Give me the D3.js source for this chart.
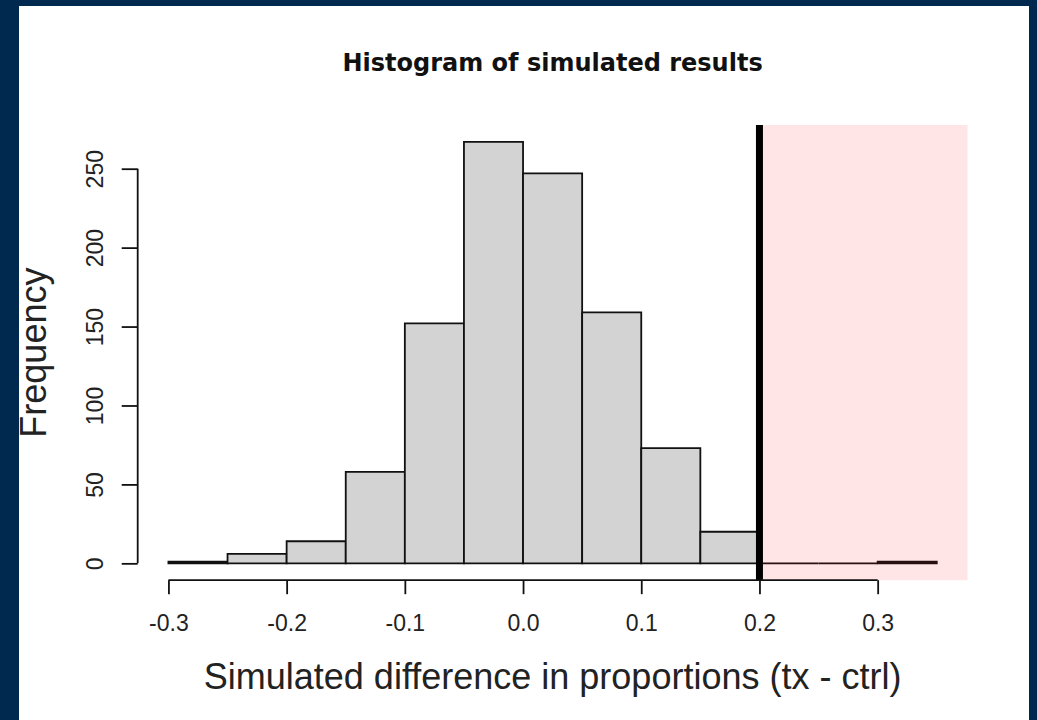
<!DOCTYPE html>
<html>
<head>
<meta charset="utf-8">
<script src="https://cdn.jsdelivr.net/npm/d3@7"></script>
<style>
    html, body { margin: 0; padding: 0; background: #00294f; }
    #chart { width: 1037px; height: 720px; }
    svg { display: block; }
</style>
</head>
<body>
<div id="chart"></div>
<script>
// histogram bins (left edges, width 0.05) and counts
const binStarts = [-0.3, -0.25, -0.2, -0.15, -0.1, -0.05, 0, 0.05, 0.1, 0.15, 0.2, 0.25, 0.3];
const counts = [1, 6, 14, 58, 152, 267, 247, 159, 73, 20, 0, 0, 1];
const binWidth = 0.05;
const xTicks = [-0.3, -0.2, -0.1, 0.0, 0.1, 0.2, 0.3];
const yTicks = [0, 50, 100, 150, 200, 250];
const cutoff = 0.2;

const titleText = 'Histogram of simulated results';
const xLabel = 'Simulated difference in proportions (tx - ctrl)';
const yLabel = 'Frequency';

const W = 1037, H = 720;

const svg = d3.select('#chart')
    .append('svg')
    .attr('width', W)
    .attr('height', H);

// white panel on the navy page
svg.append('rect')
    .attr('x', 19).attr('y', 6)
    .attr('width', 1010).attr('height', 714)
    .attr('fill', '#ffffff');

// plot region like R's usr: data range extended by 4%
const xMin = -0.3, xMax = 0.35;
const xPad = (xMax - xMin) * 0.04;
const yMax = d3.max(counts);
const yPad = yMax * 0.04;

const x = d3.scaleLinear()
    .domain([xMin - xPad, xMax + xPad])
    .range([137.7, 967.5]);

const y = d3.scaleLinear()
    .domain([-yPad, yMax + yPad])
    .range([580.2, 125]);

const plot = svg.append('g');

// bars as closed paths so empty bins still show as a line on the baseline
plot.selectAll('path.bar')
    .data(counts)
    .enter()
    .append('path')
    .attr('class', 'bar')
    .attr('d', (d, i) => {
        const x0 = x(binStarts[i]), x1 = x(binStarts[i] + binWidth);
        return `M${x0},${y(0)}V${y(d)}H${x1}V${y(0)}Z`;
    })
    .attr('fill', '#d3d3d3')
    .attr('stroke', '#111')
    .attr('stroke-width', 1.8);

// shaded tail region
plot.append('rect')
    .attr('x', x(cutoff))
    .attr('y', y.range()[1])
    .attr('width', x.range()[1] - x(cutoff))
    .attr('height', y.range()[0] - y.range()[1])
    .attr('fill', 'rgba(255, 0, 0, 0.1)');

// observed difference line
plot.append('line')
    .attr('x1', x(cutoff)).attr('x2', x(cutoff))
    .attr('y1', y.range()[1]).attr('y2', y.range()[0])
    .attr('stroke', '#000')
    .attr('stroke-width', 7);

const fmt = d => d3.format('.1f')(d).replace('\u2212', '-');

// x axis
const xAxis = svg.append('g')
    .attr('transform', `translate(0, ${y.range()[0]})`)
    .call(d3.axisBottom(x)
        .tickValues(xTicks)
        .tickFormat(fmt)
        .tickSize(14)
        .tickSizeOuter(0));

xAxis.select('.domain')
    .attr('d', `M${x(xTicks[0])},0H${x(xTicks[xTicks.length - 1])}`)
    .attr('stroke', '#111')
    .attr('stroke-width', 1.8);
xAxis.selectAll('.tick line').attr('stroke', '#111').attr('stroke-width', 1.8);
xAxis.selectAll('.tick text')
    .attr('dy', null)
    .attr('y', 51)
    .style('font-family', '"Liberation Sans", Arial, sans-serif')
    .style('font-size', '23px')
    .attr('fill', '#222');

// y axis
const yAxis = svg.append('g')
    .attr('transform', `translate(${x.range()[0]}, 0)`)
    .call(d3.axisLeft(y)
        .tickValues(yTicks)
        .tickSize(16)
        .tickSizeOuter(0));

yAxis.select('.domain')
    .attr('d', `M0,${y(yTicks[0])}V${y(yTicks[yTicks.length - 1])}`)
    .attr('stroke', '#111')
    .attr('stroke-width', 1.8);
yAxis.selectAll('.tick line').attr('stroke', '#111').attr('stroke-width', 1.8);
yAxis.selectAll('.tick text')
    .attr('x', null).attr('dy', null)
    .attr('text-anchor', 'middle')
    .attr('transform', 'translate(-35, 0) rotate(-90)')
    .style('font-family', '"Liberation Sans", Arial, sans-serif')
    .style('font-size', '23px')
    .attr('fill', '#222');

// title and axis labels
svg.append('text')
    .attr('x', (x.range()[0] + x.range()[1]) / 2)
    .attr('y', 71)
    .attr('text-anchor', 'middle')
    .style('font-family', '"DejaVu Sans", sans-serif')
    .style('font-weight', 'bold')
    .style('font-size', '24px')
    .attr('fill', '#111')
    .text(titleText);

svg.append('text')
    .attr('x', (x.range()[0] + x.range()[1]) / 2)
    .attr('y', 689)
    .attr('text-anchor', 'middle')
    .style('font-family', '"Liberation Sans", Arial, sans-serif')
    .style('font-size', '36px')
    .attr('fill', '#222')
    .text(xLabel);

svg.append('text')
    .attr('transform', `translate(46, ${(y.range()[0] + y.range()[1]) / 2}) rotate(-90)`)
    .attr('text-anchor', 'middle')
    .style('font-family', '"Liberation Sans", Arial, sans-serif')
    .style('font-size', '36px')
    .attr('fill', '#222')
    .text(yLabel);
</script>
</body>
</html>
